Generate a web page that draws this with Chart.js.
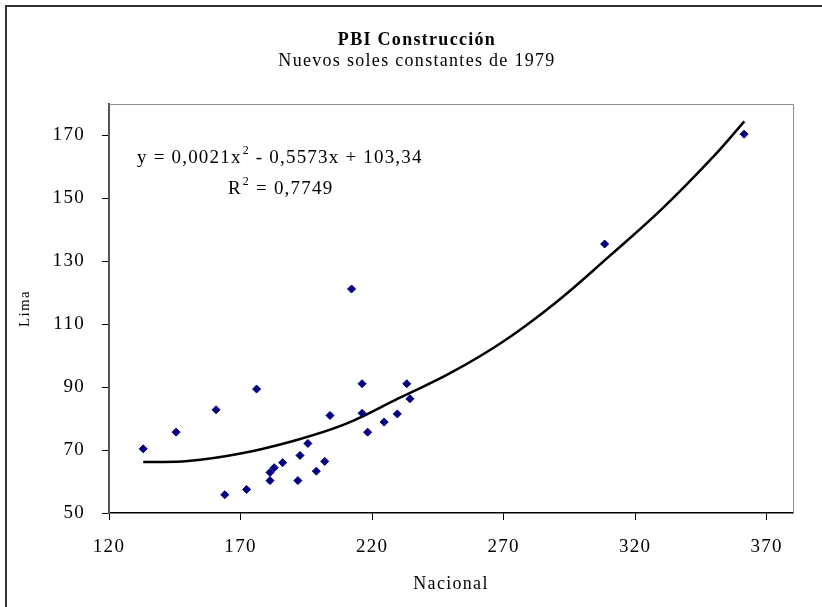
<!DOCTYPE html>
<html>
<head>
<meta charset="utf-8">
<script src="https://cdn.jsdelivr.net/npm/chart.js@4.4.0/dist/chart.umd.min.js"></script>
<style>
  html, body { margin: 0; padding: 0; background: #fff; }
  canvas { display: block; }
</style>
</head>
<body>
<canvas id="c" width="822" height="607"></canvas>
<script>
// ---- Data ----
const nacional = [133.0, 145.5, 160.7, 164.0, 172.3, 176.1, 181.2, 181.2, 182.8, 186.0, 191.8, 192.6, 195.6, 198.8, 202.0, 204.0, 212.2, 216.2, 216.2, 218.3, 224.6, 229.6, 233.2, 234.4, 308.4, 361.4];
const lima     = [70.4, 75.7, 82.8, 55.8, 57.5, 89.4, 60.3, 62.9, 64.4, 66.0, 60.3, 68.3, 72.1, 63.3, 66.4, 81.0, 121.2, 91.1, 81.7, 75.7, 78.9, 81.5, 91.1, 86.3, 135.5, 170.4];

// polynomial trend line
const trendX = [133, 150, 170, 190, 210, 230, 250, 270, 290, 310, 330, 350, 361.5];
const trendY = [66.2, 66.5, 68.9, 72.9, 78.3, 86.4, 94.6, 104.6, 117.0, 131.5, 146.5, 163.5, 174.5];

const xTicks = [120, 170, 220, 270, 320, 370];
const yTicks = [50, 70, 90, 110, 130, 150, 170];

const titleText = 'PBI Construcción';
const subtitleText = 'Nuevos soles constantes de 1979';
const xTitle = 'Nacional';
const yTitle = 'Lima';
const eqParts = ['y = 0,0021x', '2', ' - 0,5573x + 103,34'];
const r2Parts = ['R', '2', ' = 0,7749'];

const SERIF = '"Liberation Serif", "Times New Roman", serif';

const spacingPlugin = {
  id: 'spacing',
  beforeUpdate(chart) { chart.ctx.letterSpacing = '1.3px'; },
  beforeDraw(chart) {
    const ctx = chart.ctx;
    ctx.letterSpacing = '1.3px';
    ctx.save();
    ctx.fillStyle = '#fff';
    ctx.fillRect(0, 0, chart.width, chart.height);
    // outer chart frame (left & top visible)
    ctx.strokeStyle = '#333';
    ctx.lineWidth = 2;
    ctx.beginPath();
    ctx.moveTo(6, chart.height + 5);
    ctx.lineTo(6, 6);
    ctx.lineTo(chart.width + 5, 6);
    ctx.stroke();
    ctx.restore();
  },
  beforeDatasetsDraw(chart) {
    const {ctx, chartArea: a} = chart;
    ctx.save();
    ctx.strokeStyle = '#8c8c8c';
    ctx.lineWidth = 1;
    ctx.beginPath();
    ctx.moveTo(a.left, a.top + 0.5);
    ctx.lineTo(a.right + 0.5, a.top + 0.5);
    ctx.lineTo(a.right + 0.5, a.bottom);
    ctx.stroke();
    ctx.restore();
  },
  afterDraw(chart) {
    const ctx = chart.ctx;
    ctx.save();
    ctx.letterSpacing = '1.2px';
    ctx.fillStyle = '#000';
    ctx.textBaseline = 'middle';
    ctx.textAlign = 'left';
    const drawSup = (parts, x, y) => {
      ctx.font = '19px ' + SERIF;
      ctx.fillText(parts[0], x, y);
      x += ctx.measureText(parts[0]).width;
      ctx.font = '12px ' + SERIF;
      ctx.fillText(parts[1], x + 1, y - 7);
      x += ctx.measureText(parts[1]).width + 1;
      ctx.font = '19px ' + SERIF;
      ctx.fillText(parts[2], x, y);
    };
    drawSup(eqParts, 137, 158);
    drawSup(r2Parts, 228, 189);
    ctx.restore();
  }
};

new Chart(document.getElementById('c'), {
  data: {
    datasets: [
      {
        type: 'scatter',
        label: 'Lima vs Nacional',
        data: nacional.map((x, i) => ({x, y: lima[i]})),
        backgroundColor: '#000080',
        borderColor: '#000080',
        borderWidth: 1,
        pointStyle: 'rectRot',
        pointRadius: 4,
        order: 1
      },
      {
        type: 'scatter',
        label: 'Polinómica',
        data: trendX.map((x, i) => ({x, y: trendY[i]})),
        showLine: true,
        borderColor: '#000',
        borderWidth: 2.5,
        pointRadius: 0,
        tension: 0.4,
        fill: false,
        order: 2
      }
    ]
  },
  options: {
    responsive: false,
    devicePixelRatio: 1,
    animation: false,
    layout: { padding: { left: 12, right: 0, top: 0, bottom: 0 } },
    plugins: {
      legend: { display: false },
      tooltip: { enabled: false },
      title: {
        display: true,
        text: titleText,
        color: '#000',
        font: { family: SERIF, size: 18, weight: 'bold', lineHeight: 1 },
        padding: { top: 31, bottom: 0 }
      },
      subtitle: {
        display: true,
        text: subtitleText,
        color: '#000',
        font: { family: SERIF, size: 18, weight: 'normal', lineHeight: 1 },
        padding: { top: 3.5, bottom: 33.5 }
      }
    },
    scales: {
      x: {
        type: 'linear',
        position: 'bottom',
        min: 120,
        max: 380,
        afterBuildTicks: axis => { axis.ticks = xTicks.map(v => ({value: v})); },
        afterFit: scale => { scale.height = 607 - 513; },
        grid: { drawOnChartArea: false, drawTicks: true, tickLength: 7, color: '#000', lineWidth: 1 },
        border: { display: true, color: '#000', width: 1.5 },
        ticks: { color: '#000', font: { family: SERIF, size: 19 }, padding: 16, maxRotation: 0, autoSkip: false },
        title: { display: true, text: xTitle, color: '#000', font: { family: SERIF, size: 18 }, padding: { top: 0, bottom: 12 } }
      },
      y: {
        type: 'linear',
        position: 'left',
        min: 50,
        max: 180,
        afterBuildTicks: axis => { axis.ticks = yTicks.map(v => ({value: v})); },
        afterFit: scale => { scale.width = 97; },
        grid: { drawOnChartArea: false, drawTicks: true, tickLength: 7, color: '#000', lineWidth: 1 },
        border: { display: true, color: '#555', width: 2 },
        ticks: { color: '#000', font: { family: SERIF, size: 19 }, padding: 17, autoSkip: false },
        title: { display: true, text: yTitle, color: '#000', font: { family: SERIF, size: 15 }, padding: { top: 4, bottom: 0 } }
      },
      yRight: {
        type: 'linear',
        position: 'right',
        min: 50,
        max: 180,
        display: true,
        afterFit: scale => { scale.width = 29; },
        grid: { display: false, drawTicks: false },
        border: { display: false },
        ticks: { display: false }
      }
    }
  },
  plugins: [spacingPlugin]
});
</script>
</body>
</html>
